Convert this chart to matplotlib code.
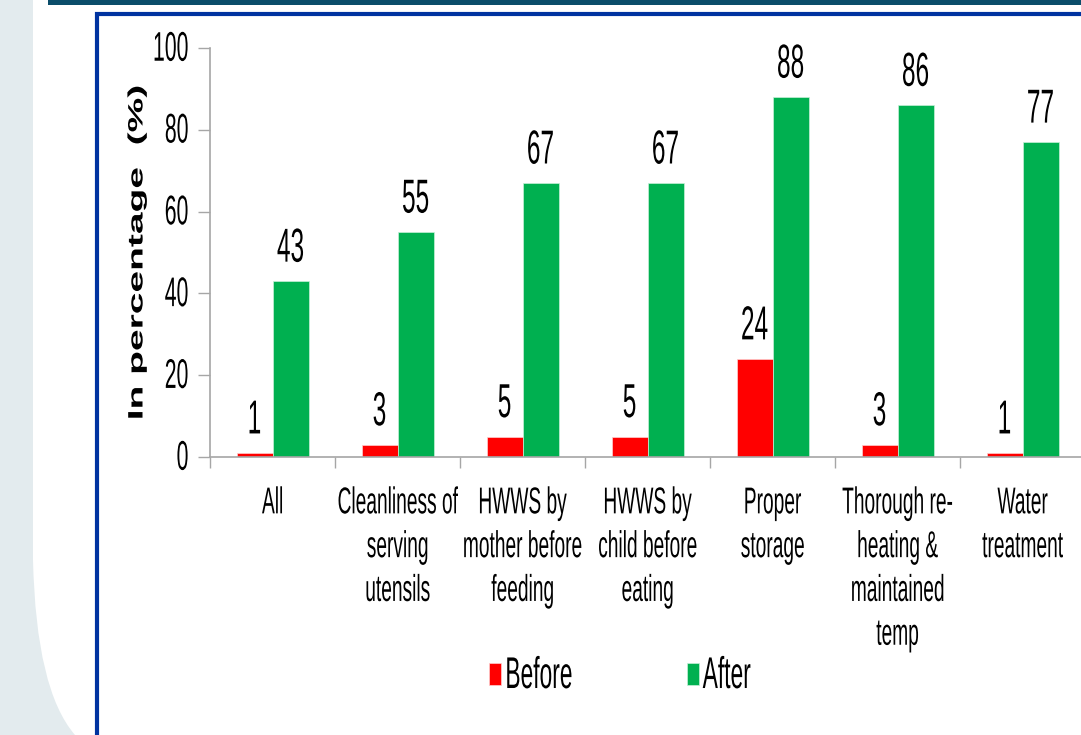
import matplotlib
matplotlib.use('Agg')
import matplotlib.pyplot as plt
import numpy as np
from matplotlib.patches import Rectangle, PathPatch
from matplotlib.path import Path
from matplotlib.patheffects import AbstractPathEffect
from matplotlib.transforms import Affine2D

categories = ['All', 'Cleanliness of\nserving\nutensils', 'HWWS by\nmother before\nfeeding',
              'HWWS by\nchild before\neating', 'Proper\nstorage',
              'Thorough re-\nheating &\nmaintained\ntemp', 'Water\ntreatment']
before = [1, 3, 5, 5, 24, 3, 1]
after = [43, 55, 67, 67, 88, 86, 77]
yticks = [0, 20, 40, 60, 80, 100]

FONT = ['Liberation Sans', 'DejaVu Sans']
RED = '#FF0000'
GREEN = '#00B050'
GREY = '#A6A6A6'
SY = 1.95  # the slide picture (narrow font) is stretched vertically


class Stretch(AbstractPathEffect):
    # scale glyphs vertically around the top / bottom / centre of the text box
    def __init__(self, txt, ya='center', sy=SY):
        super().__init__()
        self.txt, self.ya, self.sy = txt, ya, sy

    def draw_path(self, renderer, gc, tpath, affine, rgbFace=None):
        bb = self.txt.get_window_extent(renderer)
        y0 = {'top': bb.y1, 'bottom': bb.y0, 'center': (bb.y0 + bb.y1) / 2}[self.ya]
        affine = affine + Affine2D().translate(0, -y0).scale(1, self.sy).translate(0, y0)
        renderer.draw_path(gc, tpath, affine, rgbFace)


W, H = 1081, 735
fig = plt.figure(figsize=(W / 100, H / 100), dpi=100)
fig.patch.set_facecolor('white')

# slide decoration (pixel coords -> figure fraction)
def fx(x): return x / W
def fy(y): return 1 - y / H

verts = [(fx(0), fy(0)), (fx(33), fy(0)), (fx(33), fy(560)), (fx(36), fy(690)),
         (fx(75), fy(735)), (fx(0), fy(735)), (fx(0), fy(0))]
codes = [Path.MOVETO, Path.LINETO, Path.LINETO, Path.CURVE3, Path.CURVE3, Path.LINETO, Path.CLOSEPOLY]
fig.patches.append(PathPatch(Path(verts, codes), transform=fig.transFigure,
                             facecolor='#E3EBEE', edgecolor='none', zorder=0))
fig.patches.append(Rectangle((fx(48), fy(5)), 1, fy(0) - fy(5), transform=fig.transFigure,
                             facecolor='#0B4D6A', edgecolor='none', zorder=1))
fig.patches.append(Rectangle((fx(96.5), fy(800)), 1, fy(14) - fy(800), transform=fig.transFigure,
                             facecolor='none', edgecolor='#0033A0', linewidth=3, zorder=1))

ax = fig.add_axes([fx(210), fy(457), fx(1085) - fx(210), fy(48) - fy(457)])
ax.set_facecolor('none')

x = np.arange(len(categories))
w = 0.288
ax.bar(x - w / 2, before, w, color=RED, edgecolor='#FFD0D0', linewidth=0.5, label='Before')
ax.bar(x + w / 2, after, w, color=GREEN, edgecolor='#C8F0D8', linewidth=0.5, label='After')

for xi, v in list(zip(x - w / 2, before)) + list(zip(x + w / 2, after)):
    t = ax.annotate(str(v), (xi, v), xytext=(0, 7), textcoords='offset points',
                    ha='center', va='bottom', fontsize=17.6, family=FONT)
    t.set_path_effects([Stretch(t, 'bottom')])

ax.set_xlim(-0.5, len(categories) - 0.5)
ax.set_ylim(0, 100)
ax.set_yticks(yticks)
ax.set_xticks(np.arange(len(categories) + 1) - 0.5)
ax.set_xticklabels([])
for sp in ['top', 'right']:
    ax.spines[sp].set_visible(False)
for sp in ['left', 'bottom']:
    ax.spines[sp].set_color(GREY)
    ax.spines[sp].set_linewidth(1.2)
ax.tick_params(axis='y', length=8.5, width=1, color=GREY, pad=7, labelsize=15.3)
ax.tick_params(axis='x', length=8, width=1, color=GREY)
for lbl in ax.get_yticklabels():
    lbl.set_family(FONT)
    lbl.set_path_effects([Stretch(lbl, 'center')])

for xi, c in zip(x, categories):
    t = ax.text(xi, -(488 - 457) / 409, c, transform=ax.get_xaxis_transform(),
                ha='center', va='top', fontsize=13.8, family=FONT, linespacing=1.42)
    t.set_path_effects([Stretch(t, 'top')])

yl = fig.text(fx(137), fy(252), 'In percentage  (%)', rotation=90, ha='center', va='center',
              fontsize=15, fontweight='bold', family=FONT)
yl.set_path_effects([Stretch(yl, 'center', sy=1.87)])

leg = fig.legend(loc='center', bbox_to_anchor=(fx(620), fy(675)), ncol=2, frameon=False,
                 prop={'family': FONT, 'size': 16.4}, handlelength=0.53, handleheight=1.1,
                 handletextpad=0.18, columnspacing=5.0)
for t in leg.get_texts():
    t.set_path_effects([Stretch(t, 'center')])

fig.savefig('out.png', dpi=100)
